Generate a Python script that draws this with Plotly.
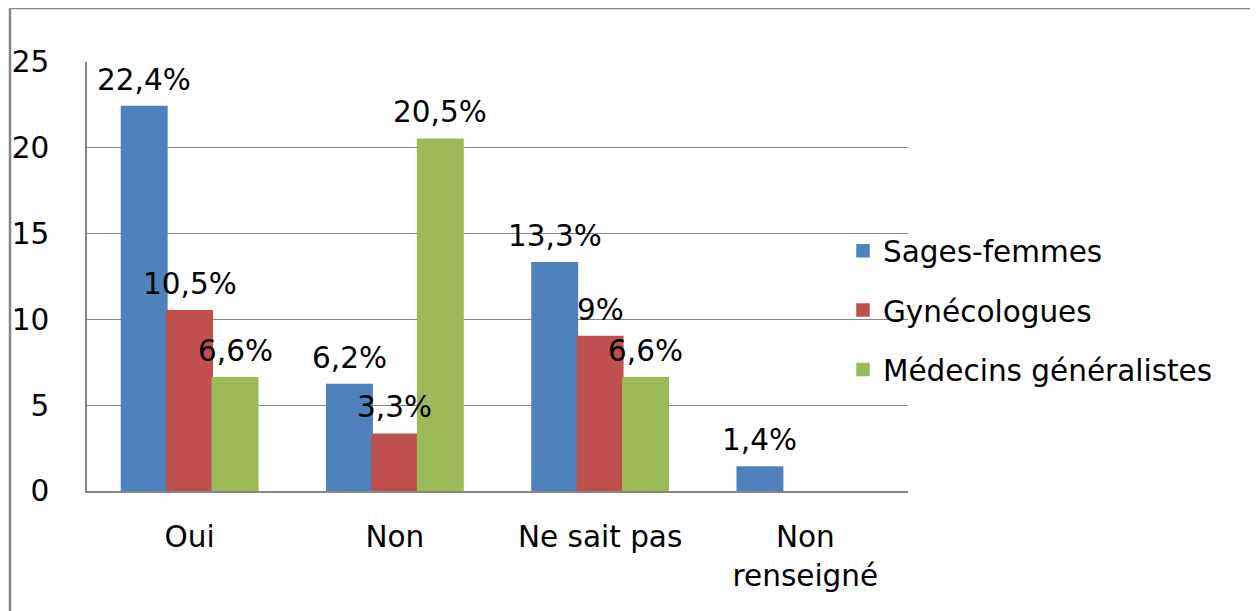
import plotly.graph_objects as go

categories = ["Oui", "Non", "Ne sait pas", "Non<br>renseigné"]
series_names = ["Sages-femmes", "Gynécologues", "Médecins généralistes"]
sages_femmes = [22.4, 6.2, 13.3, 1.4]
gynecologues = [10.5, 3.3, 9.0, None]
medecins = [6.6, 20.5, 6.6, None]
labels_sf = ["22,4%", "6,2%", "13,3%", "1,4%"]
labels_gy = ["10,5%", "3,3%", "9%", ""]
labels_mg = ["6,6%", "20,5%", "6,6%", ""]
y_ticks = [0, 5, 10, 15, 20, 25]

colors = ["#4F81BD", "#C0504D", "#9BBB59"]
FONT = "DejaVu Sans"
FS = 29.5
OFF = 8  # page body margin
W, H = 1258 - OFF, 611 - OFF
# plot-area edges in screen pixels
L, R, T, B = 87, 908, 62, 491
BARGAP = 0.336

fig = go.Figure()
all_vals = [sages_femmes, gynecologues, medecins]
all_labs = [labels_sf, labels_gy, labels_mg]
for name, vals, col in zip(series_names, all_vals, colors):
    fig.add_trace(go.Bar(
        x=categories, y=vals, name=name, marker_color=col,
        marker_line=dict(color=col, width=1.5),
        legendgroup=name,
    ))

# value labels above bars (bar centres derived from group layout in axis units)
bw = (1 - BARGAP) / 3
annotations = []
for k, (vals, labs) in enumerate(zip(all_vals, all_labs)):
    for i, (v, t) in enumerate(zip(vals, labs)):
        if v is None or not t:
            continue
        annotations.append(dict(
            x=i + (k - 1) * bw, y=v, xref="x", yref="y", text=t,
            showarrow=False, yanchor="bottom", xanchor="center", yshift=8,
            font=dict(family=FONT, size=FS, color="black"),
        ))

def px(x):
    return (x - L) / (R - L)

def py(y):
    return (B - y) / (B - T)

fig.add_shape(type="rect", xref="paper", yref="paper",
              x0=px(10), x1=px(1252), y0=py(640), y1=py(8),
              line=dict(color="#868686", width=2.5), layer="below")

fig.update_layout(
    width=W, height=H,
    margin=dict(l=L - OFF, r=W - (R - OFF), t=T - OFF, b=H - (B - OFF), pad=0),
    paper_bgcolor="white", plot_bgcolor="white",
    barmode="group", bargap=BARGAP, bargroupgap=0,
    font=dict(family=FONT, size=FS, color="black"),
    annotations=annotations,
    showlegend=True,
    legend=dict(x=px(843), xanchor="left", y=py(225), yanchor="top",
                font=dict(family=FONT, size=FS, color="black"),
                tracegroupgap=18, bgcolor="rgba(0,0,0,0)"),
    xaxis=dict(showline=True, linecolor="#868686", linewidth=1.5,
               ticks="", tickfont=dict(family=FONT, size=FS),
               ticklabelstandoff=19, automargin=False),
    yaxis=dict(range=[0, 25], tickvals=y_ticks, showgrid=True,
               gridcolor="#868686", gridwidth=1, showline=True,
               linecolor="#868686", linewidth=1.5, zeroline=False,
               ticks="", tickfont=dict(family=FONT, size=FS),
               ticklabelstandoff=30, automargin=False),
)

fig.write_html("out.html")
